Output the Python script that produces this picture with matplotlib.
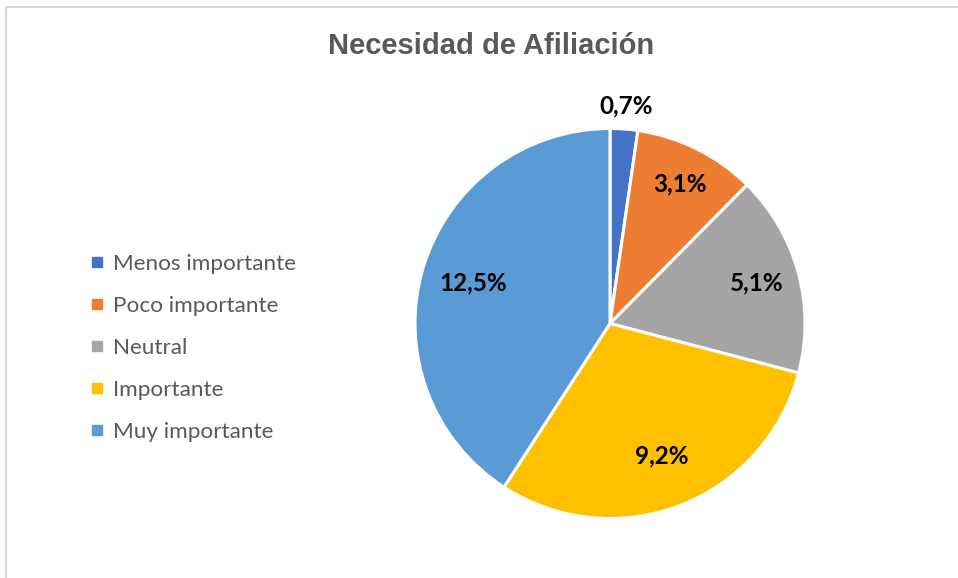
import matplotlib
matplotlib.use("Agg")
import matplotlib.pyplot as plt
from matplotlib.lines import Line2D
import numpy as np

title = "Necesidad de Afiliación"
categories = ["Menos importante", "Poco importante", "Neutral", "Importante", "Muy importante"]
values = [0.7, 3.1, 5.1, 9.2, 12.5]
colors = ["#4472C4", "#ED7D31", "#A5A5A5", "#FFC000", "#5B9BD5"]
# radial position of each value label, as a fraction of the radius
label_dist = [1.12, 0.80, 0.78, 0.73, 0.73]

W, H = 958, 578
fig = plt.figure(figsize=(W / 100, H / 100), dpi=100)
ax = fig.add_axes([0, 0, 1, 1])

# chart frame (top and left edges only are visible)
ax.plot([6.5, W], [H - 6.5, H - 6.5], color="#D9D9D9", lw=1.5)
ax.plot([6.5, 6.5], [0, H - 6.5], color="#D9D9D9", lw=1.5)

cx, cy, r = 610, H - 323.5, 195
wedges, _ = ax.pie(values, colors=colors, startangle=90, counterclock=False,
                   center=(cx, cy), radius=r, frame=True,
                   wedgeprops=dict(edgecolor="white", linewidth=2.2))
ax.set_xlim(0, W)
ax.set_ylim(0, H)
ax.set_aspect("equal")
ax.axis("off")

for w, v, d in zip(wedges, values, label_dist):
    ang = np.deg2rad((w.theta1 + w.theta2) / 2)
    x = cx + d * r * np.cos(ang)
    y = cy + d * r * np.sin(ang)
    ax.text(x, y, f"{v:.1f}%".replace(".", ","), ha="center", va="center",
            fontsize=17.5, fontweight="bold", family="Lato", color="black")

ax.text(491, H - 46, title, ha="center", va="center", fontsize=21,
        fontweight="bold", family="Liberation Sans", color="#595959")

handles = [Line2D([], [], marker="s", linestyle="", markersize=7,
                  markerfacecolor=c, markeredgecolor=c) for c in colors]
fig.legend(handles, categories, loc="center left", bbox_to_anchor=(67 / W, 1 - 348 / H),
           frameon=False, prop={"family": "Lato", "size": 16.2}, labelcolor="#595959",
           labelspacing=0.98, handletextpad=0.25, handlelength=0.9)

fig.savefig("out.png", dpi=100)
